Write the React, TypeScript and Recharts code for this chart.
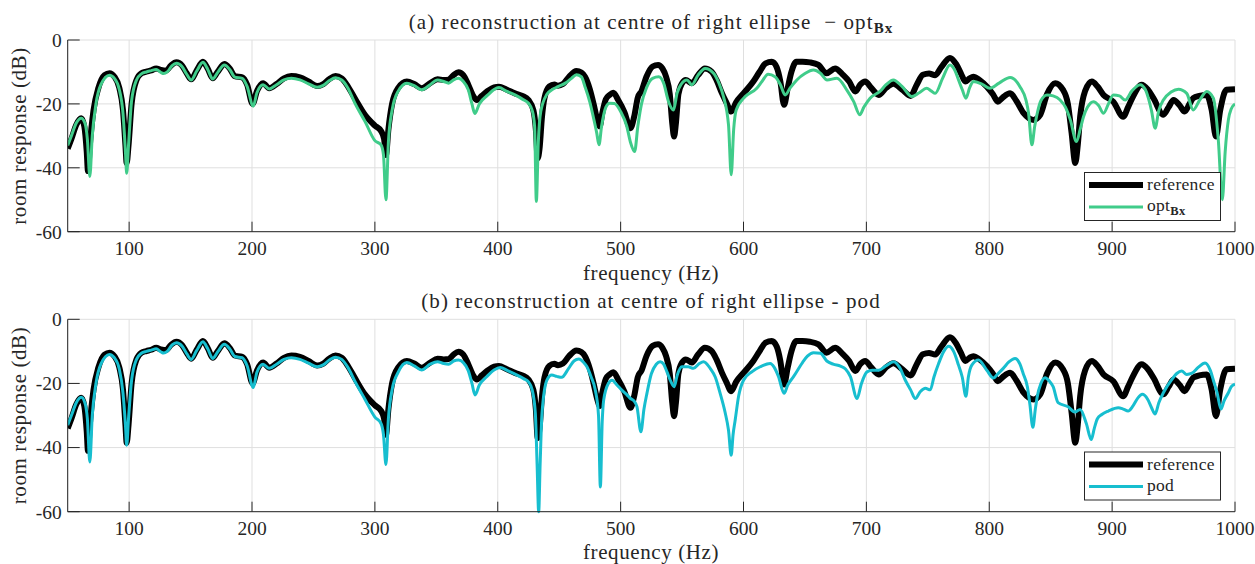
import React from 'react';
import { CartesianGrid, Line, LineChart, XAxis, YAxis } from 'recharts';

// room response curves, [frequency Hz, level dB]
const referenceCurve: [number, number][] = [
  [50, -34], [53, -31], [57, -26.5], [61, -24.5], [63.5, -27], [65.5, -35], [66.5, -41], [68, -33],
  [71, -22], [75, -15], [80, -11], [84, -10.4], [88, -11.5], [92, -15], [95, -22], [97, -33],
  [98, -38.5], [99.5, -33], [102, -20], [106, -12.5], [110, -10.4], [114, -9.9], [118, -9.5],
  [122, -8.9], [126, -9.4], [130, -9.6], [134, -8], [138.5, -7], [143, -8], [147, -10.5],
  [150.5, -12.3], [155, -9.5], [160, -6.8], [164, -9], [168, -12], [172, -10], [177.5, -7.5],
  [182, -9], [186, -11.3], [192, -11.7], [196, -14], [200.5, -20], [204, -16], [209, -13.5],
  [214, -15.1], [220, -13.8], [226, -12], [232, -11.3], [239, -11.7], [246, -13], [253, -14.4],
  [258, -13.8], [263, -12.2], [268, -11.3], [273, -12], [278, -14.5], [284, -18.5], [292, -23.5],
  [300, -26.8], [305, -28.5], [307.5, -31], [309, -36], [311, -28], [314, -20], [319, -15],
  [326, -13], [332, -13.8], [338, -15.1], [345, -13.5], [351, -12.3], [356, -12.5], [360, -12.4],
  [364, -11], [368, -10.1], [372, -11], [376, -14], [380, -17.5], [383, -18.8], [387, -17.5],
  [392, -15.9], [397, -14.8], [401, -14.6], [407, -15.5], [414, -16.7], [420, -17.5], [425, -18.8],
  [429, -22], [431, -28], [432.5, -37], [434, -34], [436, -24], [438, -18.2], [442, -14.5],
  [446, -13.9], [449, -14.3], [453, -13.8], [458, -11.5], [464, -9.7], [468, -10.2], [471, -11.5],
  [475, -15.5], [478, -20], [481, -25], [483, -27], [485, -23], [488, -18.5], [491, -17.2],
  [494, -16.5], [498, -18.8], [503, -22.5], [508, -27.6], [511, -24], [514, -18], [517, -16],
  [521, -11.5], [526, -8.3], [530.5, -7.8], [534, -8.9], [537, -11.5], [540, -17], [542, -26],
  [543.5, -30.2], [545, -26], [547, -17], [550, -13.5], [553, -12.5], [558, -13.5], [563, -11],
  [568.5, -8.9], [574, -9.9], [578, -12.5], [582.5, -16.7], [586, -19.5], [590, -22.4], [594, -19.5],
  [600, -16.7], [608, -13], [613, -10], [618, -7.3], [623, -6.8], [627, -8.5], [630, -13],
  [633, -20.3], [636, -15], [639, -10], [643, -6.8], [648, -6.8], [654, -7], [661, -7.8],
  [667.5, -10.4], [674.5, -8.9], [681, -10.9], [686, -13], [691, -16.1], [695, -14], [699, -13],
  [704, -15], [710, -17.2], [716, -15], [722, -13.7], [729, -15.5], [736, -17.5], [741, -14],
  [746, -10.9], [751, -10.5], [756, -11], [761, -8.5], [768, -5.6], [773, -7.5], [777, -10.5],
  [780.5, -13], [784, -12], [787, -11.5], [792, -12.5], [798, -14.6], [803, -17], [807, -19.3],
  [811, -18], [817, -16.7], [822, -19], [828, -22.9], [836, -25], [841.5, -23.4], [847, -17],
  [853.7, -13.5], [860, -15.6], [864, -20], [867, -29], [870, -38.5], [872, -33], [874, -24],
  [878, -16], [883.5, -13], [888, -14.5], [893, -17.2], [901, -19.3], [909, -24], [913, -21],
  [917, -17.7], [924, -14], [929, -15.5], [933.6, -18.2], [941.7, -23.4], [946, -21], [950, -18.8],
  [955, -20.5], [959, -22.4], [963, -20], [966, -18.2], [971, -17.5], [977, -17.2], [981, -21.9],
  [984.5, -30.2], [988, -21.9], [993, -15.6], [1000, -15.4],
];

const optBxCurve: [number, number][] = [
  [50, -33], [53, -30], [57, -26], [61, -24.5], [64, -26], [66, -31], [68, -42.7], [70, -30],
  [73, -20], [77, -14], [84, -11], [88, -12], [92, -15.5], [95, -23], [97, -35], [98, -41.7],
  [99.5, -33], [102, -19], [106, -12.5], [110, -10.6], [114, -10], [118, -9.6], [122, -9.2],
  [126, -10.2], [128, -10.5], [131, -10], [135, -8], [138.5, -7.3], [143, -8.3], [147, -10.8],
  [150.5, -12.5], [155, -9.7], [160, -7], [164, -9.2], [168, -12.2], [172, -10.2], [177.5, -7.8],
  [182, -9.3], [186, -11.6], [192, -12], [196, -14.5], [201, -20.7], [204, -16.5], [209, -14],
  [214, -15.3], [220, -14], [226, -12.5], [232, -12], [239, -12.5], [246, -13.7], [253, -14.8],
  [258, -14.2], [263, -12.7], [268, -11.8], [273, -12.5], [278, -15], [284, -20], [292, -25.5],
  [300, -31.5], [305, -32.8], [307, -36], [309, -50], [311, -32], [314, -22], [319, -16],
  [326, -13.5], [332, -14.3], [338, -15.6], [345, -14], [351, -12.5], [356, -13], [360, -13.5],
  [364, -12.5], [368, -12], [372, -13], [376, -15.6], [379, -20], [381.3, -23], [385, -20],
  [392, -17.2], [397, -15.5], [401, -14.9], [407, -16], [414, -17.2], [420, -18.5], [425, -19.8],
  [428, -22], [430, -27], [431.4, -50.5], [433, -32], [435, -22.4], [440, -17], [444, -15.6],
  [449, -14.6], [455, -13.5], [460, -12], [464, -10.9], [468, -11.5], [471, -14.6], [475, -19.5],
  [478, -24.5], [480.5, -29], [482.4, -32.8], [484.5, -27], [488, -21], [491, -19.8], [495, -19.9],
  [500, -22.4], [505, -27], [508, -32], [511.4, -34.9], [514, -27], [517, -20], [521, -15],
  [526, -12], [531, -11.5], [535, -13.5], [539, -19.3], [543, -21.9], [546, -16.5], [549, -14],
  [554, -12.5], [558, -14], [563, -11], [568.8, -8.9], [575.6, -10.4], [580, -13.5], [583.7, -17.7],
  [587.8, -26.6], [590, -42.2], [592, -28], [594, -22], [601.4, -17.7], [610.8, -15.1], [615, -13],
  [620, -10.7], [625.7, -11.5], [630, -14], [633.9, -17.2], [638, -15], [643.4, -12.5], [650, -10.5],
  [656.9, -9.4], [662.6, -10.4], [668, -12.5], [676, -12], [684, -15.6], [689.7, -19.3], [694.6, -23.4],
  [698, -21], [703, -18.2], [711, -16.1], [716, -14], [722, -12.5], [729, -14.5], [737, -17.7],
  [743, -16.5], [749, -15.1], [753, -16], [756, -16.7], [762, -12], [768, -7.8], [772, -9.5],
  [775, -12.5], [778, -15.5], [781, -18.2], [784, -15], [787, -13], [794, -13.8], [800.5, -15.1],
  [808, -13.5], [817, -11.7], [825, -14.6], [830, -19], [832, -22.9], [834.7, -32.8], [837, -27],
  [838.8, -23.4], [842, -19], [847, -17.2], [852, -17.5], [857.7, -18.8], [862, -21], [866, -25],
  [871, -31.8], [874, -28], [876.7, -24], [880, -21], [884.8, -19.3], [889, -20.5], [893, -22.9],
  [897, -20], [901, -17.2], [906, -17.5], [910.6, -18.8], [916, -16], [922.8, -14], [927, -15.5],
  [929.5, -18.2], [932, -22], [935, -27.6], [938, -22], [941.7, -18.8], [948, -16.3], [954, -15.4],
  [960.7, -16.7], [966, -21.9], [971, -19], [977, -16.1], [982.4, -18.2], [986.4, -31.2],
  [989.7, -50], [992, -35], [994.6, -25], [997, -21.5], [1000, -20],
];

const podCurve: [number, number][] = [
  [50, -33], [53, -30], [57, -26], [61, -24.3], [64, -26], [66, -31], [68, -44.5], [70, -30],
  [73, -20], [77, -14], [84, -11], [88, -12], [92, -15.5], [95, -23], [97, -33], [98, -39.3],
  [99.5, -31], [102, -19], [106, -12.5], [110, -10.6], [114, -10], [118, -9.6], [122, -9.2],
  [126, -10.2], [128, -10.5], [131, -10], [135, -8], [138.5, -7.3], [143, -8.3], [147, -10.8],
  [150.5, -12.5], [155, -9.7], [160, -7], [164, -9.2], [168, -12.2], [172, -10.2], [177.5, -7.8],
  [182, -9.3], [186, -11.6], [192, -12], [196, -14.5], [201, -21.3], [204, -16.5], [209, -14],
  [214, -15.3], [220, -14], [226, -12.5], [232, -12], [239, -12.5], [246, -13.7], [253, -14.8],
  [258, -14.2], [263, -12.7], [268, -11.8], [273, -12.5], [278, -15], [284, -19.5], [292, -25],
  [300, -30.5], [305, -32.5], [307, -36], [309, -45.3], [311, -31], [314, -22], [319, -16.5],
  [326, -13.5], [332, -14.5], [338, -15.8], [345, -14], [351, -13.2], [356, -13.8], [360, -14],
  [364, -13], [368, -12.7], [372, -13.5], [376, -16], [379, -20], [381.5, -23.6], [385, -20.5],
  [391, -17.9], [397, -15.8], [402, -15], [408, -16], [415.7, -17.4], [421, -18.5], [425, -19.5],
  [428, -22], [430.6, -29.4], [432, -45], [433.3, -60], [434.5, -45], [436, -29.4], [440, -19],
  [444, -17.4], [448, -17.8], [452, -18.1], [457.7, -15.3], [462, -13], [466, -12.4], [470, -13.5],
  [472.6, -14.8], [476, -18], [479.4, -22.1], [482, -30], [483.5, -52.3], [485, -32], [486.2, -25.2],
  [490, -20], [493, -19], [497, -20.5], [501, -22.1], [505, -23.5], [508, -24.7], [511, -25.5],
  [513.3, -27.3], [516.5, -35.1], [519, -28], [521.4, -23.1], [525, -17], [529, -14], [532.2, -13.2],
  [535, -14], [537.7, -16.4], [541, -19.5], [543.6, -21], [546, -17.5], [549.9, -14.8], [555, -14.8],
  [559.3, -15.3], [564, -13.8], [567.5, -13.2], [572.9, -15.3], [577, -18], [581, -23.1], [585, -29],
  [587.8, -34.6], [590, -42.4], [591.5, -36], [593.2, -31.5], [596, -24], [600, -19], [607, -16.3],
  [613.6, -14.8], [621.7, -13.8], [625, -15], [628.5, -17.9], [633, -23.1], [636, -20.5],
  [640.7, -17.9], [648, -13.5], [652, -11.5], [657, -10.4], [662.6, -10.6], [667.8, -13], [673, -14],
  [678.9, -14.6], [683, -15.5], [687, -17.9], [692.4, -24.7], [696, -20], [700.5, -16.4], [705, -15.9],
  [710, -15.9], [716, -14.5], [722.2, -13.2], [727, -15], [731.7, -19], [736, -22], [739.8, -24.7],
  [744, -22.5], [748, -21.5], [752, -22], [755, -18], [758.8, -13.8], [763, -10], [767, -8.4],
  [771, -10], [775, -14.3], [778, -18], [781, -24], [783, -18], [785.8, -14.3], [791.3, -12.7],
  [798, -15.9], [803.4, -18.3], [807, -17], [811.4, -15.3], [816, -13.3], [821, -12.2], [825, -14],
  [827.6, -16.9], [831, -21], [833, -26.3], [835.5, -33.7], [837.5, -28], [839, -24.2], [842, -20],
  [845.5, -18.2], [849, -19.3], [852, -21], [856, -26], [864.2, -27.3], [869.6, -28.9], [874, -28.1],
  [879, -32.5], [883, -37.5], [885.5, -34], [888, -31], [891.6, -29.7], [897, -28.6], [905, -27.6],
  [909, -28], [913, -28.6], [917, -27], [921, -24.5], [924.5, -23.4], [929, -25], [932, -27.5],
  [935, -29.5], [938, -26], [941.7, -22.9], [948.5, -18.8], [952.6, -16.9], [956.6, -16.1],
  [960.7, -17.2], [965, -16.8], [970, -15], [975.6, -13.6], [980, -16], [982.4, -19], [985.5, -23],
  [988.6, -28], [991, -25.5], [994.6, -22.9], [997, -21], [1000, -20.2],
];

const freqTicks = [100, 200, 300, 400, 500, 600, 700, 800, 900, 1000];
const dbTicks = [-60, -40, -20, 0];

const SERIF = '"Liberation Serif", "Times New Roman", serif';
const AXIS = '#262626';
const GREEN = '#40cc8a';
const CYAN = '#17becf';

const toPoints = (curve: [number, number][]) => curve.map(([x, y]) => ({ x, y }));
const refPts = toPoints(referenceCurve);
const optPts = toPoints(optBxCurve);
const podPts = toPoints(podCurve);

function Panel({ pts, color, top }: { pts: { x: number; y: number }[]; color: string; top: number }) {
  return (
    <div style={{ position: 'absolute', left: 0, top }}>
      <LineChart width={1255} height={280} margin={{ top: 40 - (top > 0 ? 0.7 : 0), right: 20, bottom: 18.3, left: 7.7 }}>
        <CartesianGrid stroke="#dfdfdf" strokeWidth={1} />
        <XAxis
          dataKey="x"
          type="number"
          domain={[50, 1000]}
          ticks={freqTicks}
          interval={0}
          allowDataOverflow
          height={30}
          stroke={AXIS}
          tickSize={-10}
          tickMargin={19.3}
          tick={{ fontSize: 19.5, fill: AXIS, fontFamily: SERIF }}
        />
        <XAxis
          xAxisId="top"
          orientation="top"
          dataKey="x"
          type="number"
          domain={[50, 1000]}
          ticks={freqTicks}
          interval={0}
          height={0}
          stroke={AXIS}
          tickSize={-10}
          tick={false}
        />
        <YAxis
          type="number"
          domain={[-60, 0]}
          ticks={dbTicks}
          interval={0}
          width={60}
          stroke={AXIS}
          tickSize={-12}
          tickMargin={18}
          tick={{ fontSize: 19.5, fill: AXIS, fontFamily: SERIF }}
        />
        <YAxis
          yAxisId="right"
          orientation="right"
          type="number"
          domain={[-60, 0]}
          ticks={dbTicks}
          interval={0}
          width={0}
          stroke={AXIS}
          tickSize={-12}
          tick={false}
        />
        <Line
          data={refPts}
          dataKey="y"
          type="monotone"
          stroke="#000000"
          strokeWidth={6}
          strokeLinejoin="round"
          dot={false}
          activeDot={false}
          isAnimationActive={false}
        />
        <Line
          data={pts}
          dataKey="y"
          type="monotone"
          stroke={color}
          strokeWidth={3}
          strokeLinejoin="round"
          dot={false}
          activeDot={false}
          isAnimationActive={false}
        />
      </LineChart>
    </div>
  );
}

function LegendBox({ y, color, children }: { y: number; color: string; children: React.ReactNode }) {
  return (
    <g>
      <rect x={1084.5} y={y + 0.5} width={136} height={48} fill="#ffffff" stroke={AXIS} strokeWidth={1} />
      <line x1={1089} x2={1143} y1={y + 13} y2={y + 13} stroke="#000" strokeWidth={6} />
      <line x1={1089} x2={1143} y1={y + 35} y2={y + 35} stroke={color} strokeWidth={3} />
      <text x={1147} y={y + 18} fontSize={17.5} fill={AXIS} letterSpacing={0.3}>reference</text>
      {children}
    </g>
  );
}

export default function App() {
  return (
    <div style={{ position: 'absolute', left: 0, top: 0, width: 1255, height: 564, background: '#fff', fontFamily: SERIF }}>
      <Panel pts={optPts} color={GREEN} top={0} />
      <Panel pts={podPts} color={CYAN} top={280} />
      <svg width={1255} height={564} style={{ position: 'absolute', left: 0, top: 0, pointerEvents: 'none' }} fontFamily={SERIF}>
        <text x={651} y={29.3} textAnchor="middle" fontSize={21} fill={AXIS} letterSpacing={1.1}>
          (a) reconstruction at centre of right ellipse{'\u00a0\u00a0'}− opt
          <tspan fontWeight="bold" fontSize={15} dy={4}>Bx</tspan>
        </text>
        <text x={651} y={308.3} textAnchor="middle" fontSize={21} fill={AXIS} letterSpacing={1.1}>
          (b) reconstruction at centre of right ellipse - pod
        </text>
        <text x={651} y={280} textAnchor="middle" fontSize={21} fill={AXIS} letterSpacing={0.6}>frequency (Hz)</text>
        <text x={651} y={559} textAnchor="middle" fontSize={21} fill={AXIS} letterSpacing={0.6}>frequency (Hz)</text>
        <text x={26} y={136} textAnchor="middle" fontSize={21} fill={AXIS} letterSpacing={0.6} transform="rotate(-90 26 136)">
          room response (dB)
        </text>
        <text x={26} y={415.5} textAnchor="middle" fontSize={21} fill={AXIS} letterSpacing={0.6} transform="rotate(-90 26 415.5)">
          room response (dB)
        </text>
        <LegendBox y={172} color={GREEN}>
          <text x={1147} y={210.5} fontSize={17.5} fill={AXIS} letterSpacing={0.3}>
            opt<tspan fontWeight="bold" fontSize={12.5} dy={4}>Bx</tspan>
          </text>
        </LegendBox>
        <LegendBox y={451.5} color={CYAN}>
          <text x={1147} y={490.5} fontSize={17.5} fill={AXIS} letterSpacing={0.3}>pod</text>
        </LegendBox>
      </svg>
    </div>
  );
}
